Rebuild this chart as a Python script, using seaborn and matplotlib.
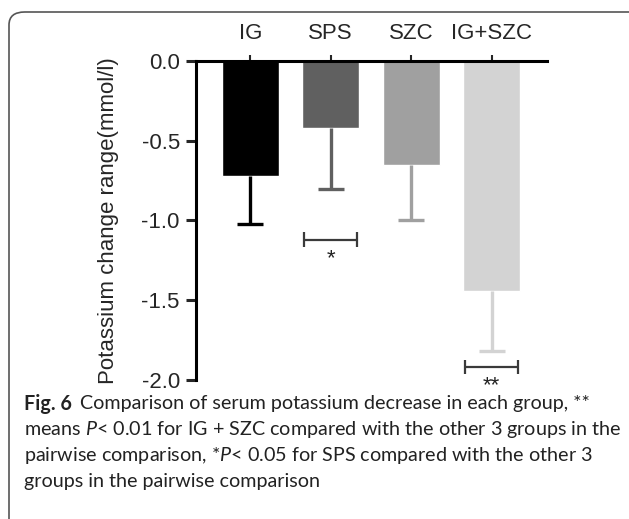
import matplotlib

matplotlib.use("Agg")

import matplotlib.pyplot as plt
import numpy as np
import pandas as pd
import seaborn as sns
from matplotlib.patches import FancyBboxPatch

groups = ["IG", "SPS", "SZC", "IG+SZC"]
mean_change = [-0.72, -0.42, -0.65, -1.44]
sd_change = [0.30, 0.38, 0.35, 0.375]
bar_colors = ["#000000", "#606060", "#a0a0a0", "#d3d3d3"]
y_ticks = [0.0, -0.5, -1.0, -1.5, -2.0]
y_tick_labels = ["0.0", "-0.5", "-1.0", "-1.5", "-2.0"]
# significance markers: group, bracket level, label
sig_groups = ["SPS", "IG+SZC"]
sig_levels = [-1.12, -1.917]
sig_labels = ["*", "**"]

caption_lines = [
    "Comparison of serum potassium decrease in each group, **",
    "means $P$< 0.01 for IG + SZC compared with the other 3 groups in the",
    "pairwise comparison, *$P$< 0.05 for SPS compared with the other 3",
    "groups in the pairwise comparison",
]

sns.set_theme(style="white")
plt.rcParams["font.family"] = ["Liberation Sans", "DejaVu Sans"]
plt.rcParams["mathtext.fontset"] = "custom"
plt.rcParams["mathtext.it"] = "Lato:italic"
plt.rcParams["mathtext.rm"] = "Lato"

df = pd.DataFrame({"group": groups, "change": mean_change})

fig = plt.figure(figsize=(6.29, 5.19), dpi=100)
ax = fig.add_axes([0.3124, 0.2678, 0.558, 0.6147])

sns.barplot(
    data=df,
    x="group",
    y="change",
    hue="group",
    palette=bar_colors,
    order=groups,
    width=0.71,
    saturation=1,
    errorbar=None,
    legend=False,
    ax=ax,
)

# one-sided (downward) error bars in the bar colour
cap_half = 0.16
positions = np.arange(len(groups))
for pos, mean, sd, color in zip(positions, mean_change, sd_change, bar_colors):
    ax.vlines(pos, mean - sd, mean, color=color, lw=2.4)
    ax.hlines(mean - sd, pos - cap_half, pos + cap_half, color=color, lw=2.4)

for group, level, label in zip(sig_groups, sig_levels, sig_labels):
    pos = groups.index(group)
    ax.hlines(level, pos - 0.33, pos + 0.33, color="#3a3a3a", lw=1.6)
    ax.vlines([pos - 0.33, pos + 0.33], level - 0.045, level + 0.045, color="#3a3a3a", lw=1.6)
    ax.text(pos, level - 0.055, label, ha="center", va="top", fontsize=16, color="#222222")

ax.set_xlim(-0.668, 3.694)
ax.set_ylim(-2.0, 0.0)
ax.set_yticks(y_ticks)
ax.set_yticklabels(y_tick_labels)
ax.xaxis.tick_top()
ax.set_xlabel("")
ax.set_ylabel("Potassium change range(mmol/l)", fontsize=16, labelpad=16)
ax.tick_params(axis="y", direction="out", length=7, width=2.2, labelsize=16, pad=5, left=True)
ax.tick_params(axis="x", direction="out", length=4, width=1.5, labelsize=16, pad=8, top=True, bottom=False)

for side in ["right", "bottom"]:
    ax.spines[side].set_visible(False)
for side in ["left", "top"]:
    ax.spines[side].set_linewidth(2.2)
    ax.spines[side].set_color("black")

border = FancyBboxPatch(
    (9 / 629, -0.05),
    1.05,
    1 - 12 / 519 + 0.05,
    boxstyle="round,pad=0,rounding_size=0.025",
    transform=fig.transFigure,
    fill=False,
    edgecolor="#555555",
    linewidth=1.2,
    clip_on=False,
)
fig.patches.append(border)

caption_y = [404, 430, 455, 481]
caption_size = 14.2
renderer = fig.canvas.get_renderer()
bold = fig.text(24 / 629, 1 - caption_y[0] / 519, "Fig. 6", fontsize=caption_size, family="Lato",
                weight="bold", va="center", color="#222222")
bold_width = bold.get_window_extent(renderer).width
fig.text((24 + bold_width + 8) / 629, 1 - caption_y[0] / 519, caption_lines[0],
         fontsize=caption_size, family="Lato", va="center", color="#222222")
for line, y in zip(caption_lines[1:], caption_y[1:]):
    fig.text(24 / 629, 1 - y / 519, line, fontsize=caption_size, family="Lato", va="center",
             color="#222222")

fig.savefig("out.png", dpi=100)
plt.close(fig)
